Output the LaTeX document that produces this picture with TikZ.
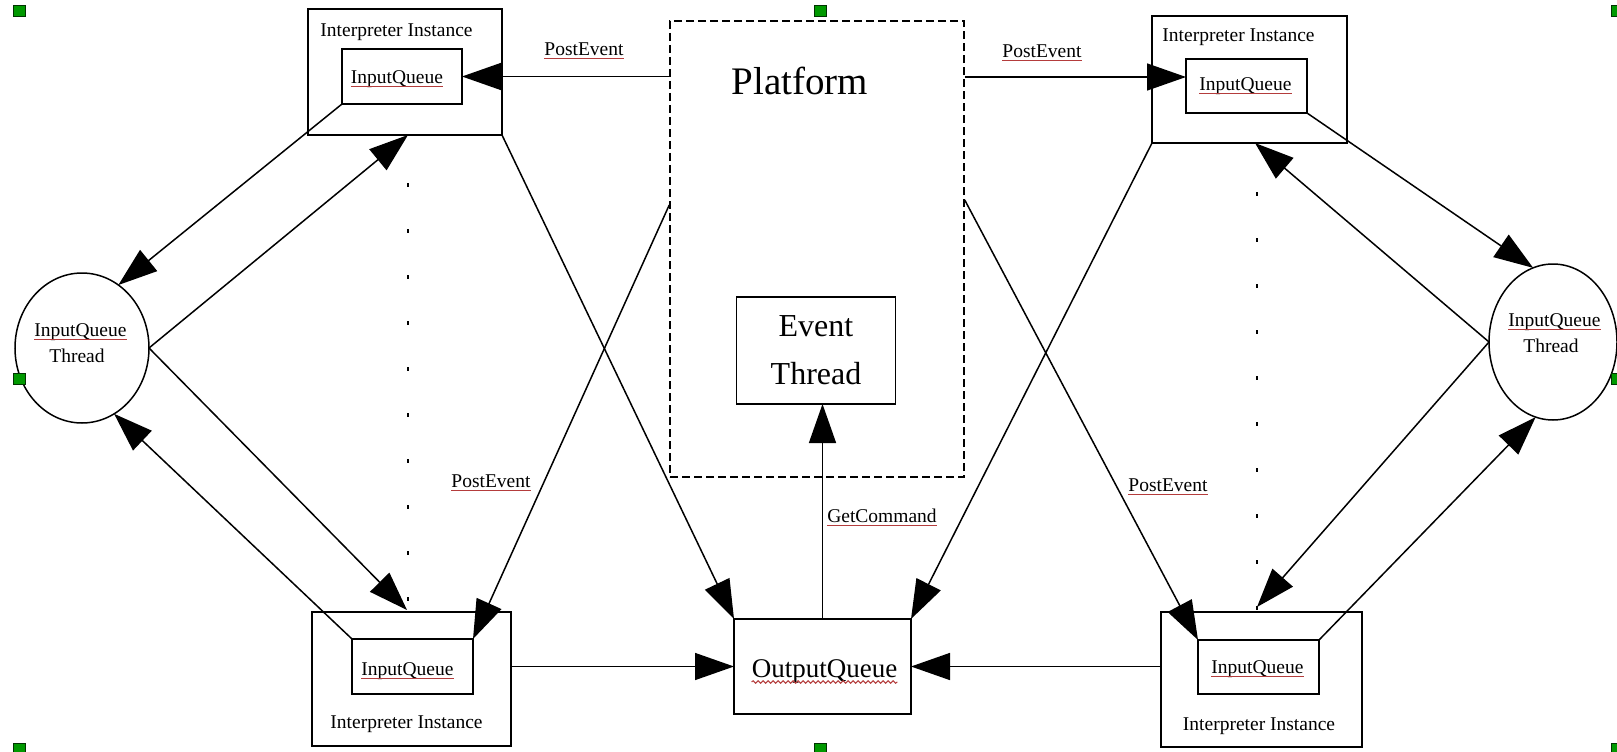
\documentclass[tikz,border=0pt]{standalone}
\usepackage{fontspec}
\setmainfont{Liberation Serif}
\usetikzlibrary{arrows.meta,shapes.geometric,decorations.pathmorphing}

\definecolor{spellred}{RGB}{180,60,60}

\begin{document}
\begin{tikzpicture}[x=1pt,y=-1pt,
  box/.style={draw, rectangle, line width=1.8pt, inner sep=0pt, outer sep=0pt},
  oval/.style={draw, ellipse, line width=1.5pt, inner sep=0pt, outer sep=0pt},
  lbl/.style={inner sep=0pt, anchor=base, font=\fontsize{19.5}{23}\selectfont},
  arr/.style={line width=1.5pt, -{Triangle[length=39pt,width=27pt]}},
  spell/.style={draw=spellred, line width=1pt},
  tick/.style={line width=2.4pt},
  handle/.style={fill=green!60!black, draw=green!20!black, line width=0.8pt}]

% canvas
\path[fill=white, use as bounding box] (0,0) rectangle (1617,752);

% platform with its event thread
\node[draw, rectangle, line width=1.5pt, dash pattern=on 8pt off 4pt,
      inner sep=0pt, minimum width=294pt, minimum height=456pt] (plat) at (817,249) {};
\node[inner sep=0pt, anchor=base, font=\fontsize{39}{47}\selectfont] (platT) at (800,94) {Platform};
\node[box, minimum width=159pt, minimum height=107pt, align=center,
      font=\fontsize{32}{48}\selectfont] (et) at (816,350.5) {Event\\Thread};

% output queue
\node[box, minimum width=177pt, minimum height=95pt] (oq) at (822.5,666.5) {};
\node[inner sep=0pt, anchor=base, font=\fontsize{27}{32}\selectfont] (oqT) at (824.5,677) {OutputQueue};

% interpreter instances (outer box, inner queue box)
\node[box, minimum width=194pt, minimum height=126pt] (tlo) at (405,72) {};
\node[box, minimum width=120pt, minimum height=55pt] (tli) at (402,76.5) {};
\node[box, minimum width=195pt, minimum height=127pt] (tro) at (1249.5,79.5) {};
\node[box, minimum width=121pt, minimum height=54pt] (tri) at (1246.5,86) {};
\node[box, minimum width=199pt, minimum height=134pt] (blo) at (411.5,679) {};
\node[box, minimum width=121pt, minimum height=55pt] (bli) at (412.5,666.5) {};
\node[box, minimum width=201pt, minimum height=135pt] (bro) at (1261.5,679.5) {};
\node[box, minimum width=121pt, minimum height=54pt] (bri) at (1258.5,667) {};

\node[lbl] (tloT) at (396.5,37) {Interpreter Instance};
\node[lbl] (troT) at (1238.5,42) {Interpreter Instance};
\node[lbl] (bloT) at (406.5,728) {Interpreter Instance};
\node[lbl] (broT) at (1259,730) {Interpreter Instance};
\node[lbl] (tliT) at (397,83) {InputQueue};
\node[lbl] (triT) at (1245.5,90) {InputQueue};
\node[lbl] (bliT) at (407.5,675) {InputQueue};
\node[lbl] (briT) at (1257.5,673) {InputQueue};

% input queue threads
\node[oval, minimum width=134pt, minimum height=150pt] (lc) at (82,348) {};
\node[oval, minimum width=128pt, minimum height=156pt] (rc) at (1553,342) {};
\node[lbl] (lcT) at (80.5,336) {InputQueue};
\node[lbl] (lcT2) at (77,362) {Thread};
\node[lbl] (rcT) at (1554.5,326) {InputQueue};
\node[lbl] (rcT2) at (1551,352) {Thread};

% connector labels
\node[lbl] (pe1) at (584,56) {PostEvent};
\node[lbl] (pe2) at (1042,58) {PostEvent};
\node[lbl] (pe3) at (491,487) {PostEvent};
\node[lbl] (pe4) at (1168,491) {PostEvent};
\node[lbl] (gc) at (882,522) {GetCommand};

% platform posts events
\coordinate (tri-in) at ([yshift=9pt]tri.west);
\draw[arr] (plat.west |- tli.east) -- (tli.east);
\draw[arr] (plat.east |- tri-in) -- (tri-in);
\draw[arr] ([yshift=44pt]plat.west) -- (bli.north east);
\draw[arr] ([yshift=49pt]plat.east) -- (bri.north west);

% instances feed the output queue
\draw[arr] (tlo.south east) -- (oq.north west);
\draw[arr] (tro.south west) -- (oq.north east);
\draw[arr] (blo.east |- oq.west) -- (oq.west);
\draw[arr] (bro.west |- oq.east) -- (oq.east);
\draw[arr] (oq.north) -- (oq.north |- et.south);

% left queue thread
\draw[arr] (tli.south west) -- (lc.60);
\draw[arr] (lc.east) -- ([xshift=3pt]tlo.south);
\draw[arr] (lc.east) -- ([xshift=-4.5pt,yshift=2pt]blo.north);
\draw[arr] (bli.north west) -- (lc.296);

% right queue thread
\draw[arr] (tri.south east) -- (rc.105);
\draw[arr] (rc.west) -- ([xshift=5.5pt]tro.south);
\draw[arr] (rc.west) -- ([xshift=-4.5pt,yshift=5pt]bro.north);
\draw[arr] (bri.north east) -- (rc.257);

% elided instances
\foreach \k in {0,...,9} {
  \draw[tick] (408,{183+46*\k}) -- ++(0,4);
  \draw[tick] (1257,{192+46*\k}) -- ++(0,4);
}

% spelling marks under identifiers
\foreach \n in {pe1,pe2,pe3,pe4,gc,tliT,triT,bliT,briT,lcT,rcT}
  \draw[spell] ([yshift=-3pt]\n.base west) -- ([yshift=-3pt]\n.base east);
\draw[spell, decorate, decoration={snake, amplitude=1.2pt, segment length=5pt}]
  ([yshift=-5pt]oqT.base west) -- ([yshift=-5pt]oqT.base east);

% selection handles
\foreach \hx/\hy in {13/5, 814/5, 1611/5, 13/373, 1611/373, 13/743, 814/743, 1611/743}
  \draw[handle] (\hx,\hy) rectangle ++(12,11);
\end{tikzpicture}
\end{document}
